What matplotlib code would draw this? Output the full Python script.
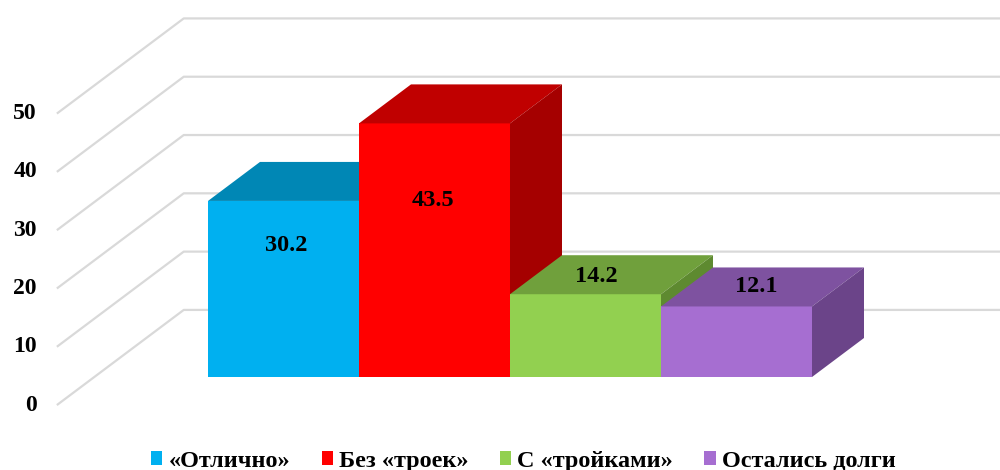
import matplotlib
matplotlib.use("Agg")
import matplotlib.pyplot as plt
from matplotlib.patches import Polygon, Patch

# ---- data ----
categories = ["«Отлично»", "Без «троек»", "С «тройками»", "Остались долги"]
values = [30.2, 43.5, 14.2, 12.1]
y_ticks = [0, 10, 20, 30, 40, 50]

# ---- style ----
front_colors = ["#00B0F0", "#FF0000", "#92D050", "#A66ED1"]
top_colors = ["#0087B5", "#C00000", "#70A03C", "#7E52A0"]
side_colors = ["#00709A", "#A50000", "#5E8A30", "#6B4489"]
label_dx = [0.017, -0.010, 0.073, 0.13]
label_dy = [-7.6, -13.3, 3.1, 3.4]
grid_color = "#D9D9D9"

plt.rcParams["font.family"] = ["Liberation Serif", "DejaVu Serif"]

fig = plt.figure(figsize=(10, 4.7), dpi=100)
ax = fig.add_axes([0, 0, 1, 1])

PX_X = 151.0   # px per category unit
PX_Y = 5.83    # px per value unit
ax.set_xlim(-283.5 / PX_X, (1000 - 283.5) / PX_X)
ax.set_ylim(-93 / PX_Y, 377 / PX_Y)
ax.axis("off")

# depth projection (per one bar depth)
kx = 52 / PX_X
ky = 39 / PX_Y
d_front, d_back = -0.72, 1.72
wall_x0 = -1.253  # wall left edge at bar plane


def proj(x, y, d):
    return x + d * kx, y + d * ky


# ---- walls / gridlines ----
xmax = ax.get_xlim()[1] + 1
for v in y_ticks:
    x1, y1 = proj(wall_x0, v, d_front)
    x2, y2 = proj(wall_x0, v, d_back)
    ax.plot([x1, x2, xmax], [y1, y2, y2], color=grid_color, lw=1.6,
            zorder=1, solid_capstyle="butt")
    ax.text(x1 - 20 / PX_X, y1, str(v), ha="right", va="center",
            fontsize=17, fontweight="bold", color="black")

# ---- bars ----
n = len(values)
xs = list(range(n))
for i, (x, v) in enumerate(zip(xs, values)):
    z = 3 + i
    ax.bar(x, v, width=1.0, bottom=0, color=front_colors[i],
           edgecolor="none", zorder=z)
    l, r = x - 0.5, x + 0.5
    top = [proj(l, v, 0), proj(r, v, 0), proj(r, v, 1), proj(l, v, 1)]
    side = [proj(r, 0, 0), proj(r, v, 0), proj(r, v, 1), proj(r, 0, 1)]
    ax.add_patch(Polygon(top, closed=True, facecolor=top_colors[i],
                         edgecolor="none", zorder=z))
    ax.add_patch(Polygon(side, closed=True, facecolor=side_colors[i],
                         edgecolor="none", zorder=z))

for i, (x, v) in enumerate(zip(xs, values)):
    ax.text(x + label_dx[i], v + label_dy[i], f"{v:.1f}", ha="center",
            va="center", fontsize=17.5, fontweight="bold", color="black",
            zorder=20)

# ---- legend ----
handles = [Patch(facecolor=c, edgecolor="none") for c in front_colors]
leg = fig.legend(handles, categories, loc="center",
                 bbox_to_anchor=(0.5234, 0.019), ncol=4, frameon=False,
                 prop={"family": ["Liberation Serif"], "weight": "bold",
                       "size": 17.5},
                 handlelength=0.47, handleheight=0.47, handletextpad=0.25,
                 columnspacing=1.29, borderpad=0, borderaxespad=0)

fig.savefig("out.png", dpi=100)
